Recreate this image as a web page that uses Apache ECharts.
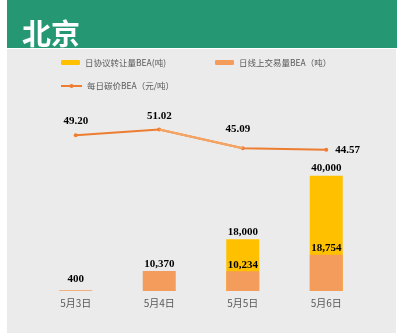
<!DOCTYPE html>
<html>
<head>
<meta charset="utf-8">
<script src="https://cdn.jsdelivr.net/npm/echarts@6/dist/echarts.min.js"></script>
<style>
html,body{margin:0;padding:0;background:#fff;}
#c{width:397px;height:336px;}
</style>
</head>
<body>
<div id="c"></div>
<script>
const categories = ['5月3日', '5月4日', '5月5日', '5月6日'];
const agreementVolume = [null, null, 18000, 40000];   // 日协议转让量BEA(吨)
const onlineVolume = [400, 10370, 10234, 18754];      // 日线上交易量BEA（吨）
const dailyPrice = [49.20, 51.02, 45.09, 44.57];      // 每日碳价BEA（元/吨）

const titleText = '北京';
const nameAgree = '日协议转让量BEA(吨)';
const nameOnline = '日线上交易量BEA（吨）';
const namePrice = '每日碳价BEA（元/吨）';

const serifLabel = {fontFamily: '"Liberation Serif", "DejaVu Serif", serif', fontWeight: 'bold', fontSize: 11, color: '#000'};
const thousands = p => p.value == null ? '' : Number(p.value).toLocaleString('en-US');

// per-point label placement for the price line
const priceLabelStyles = [
  {position: 'top', distance: 7},
  {position: 'top', distance: 6},
  {position: 'top', distance: 12, offset: [-5, 0]},
  {position: 'right', distance: 7}
];

const chart = echarts.init(document.getElementById('c'), null, {renderer: 'canvas'});
const legendText = {color: '#595959', fontSize: 8.5, fontFamily: '"Noto Sans CJK SC", sans-serif', lineHeight: 12};

chart.setOption({
  animation: false,
  backgroundColor: '#ffffff',
  graphic: [
    {type: 'rect', left: 7, top: 0, shape: {width: 390, height: 48}, style: {fill: '#259873'}, z: -10},
    {type: 'rect', left: 7, top: 49, shape: {width: 389, height: 284}, style: {fill: '#EBEBEB'}, z: -10}
  ],
  title: {
    text: titleText, left: 22, top: 19, padding: 0,
    textStyle: {color: '#fff', fontSize: 29, fontWeight: 'bold', fontFamily: '"Noto Sans CJK SC", sans-serif', lineHeight: 30}
  },
  legend: [
    {data: [nameAgree], left: 61, top: 56.5, padding: 0, itemWidth: 19, itemHeight: 5, textStyle: legendText},
    {data: [nameOnline], left: 215, top: 56.5, padding: 0, itemWidth: 19, itemHeight: 5, textStyle: legendText},
    {data: [namePrice], left: 60, top: 80, padding: 0, itemWidth: 21, itemHeight: 5, textStyle: legendText}
  ],
  grid: {left: 34, right: 29, top: 101, bottom: 45},
  xAxis: {
    type: 'category', data: categories,
    axisLine: {show: false}, axisTick: {show: false},
    axisLabel: {color: '#595959', fontSize: 10, margin: 7, fontFamily: '"Noto Sans CJK SC", sans-serif'}
  },
  yAxis: [
    {type: 'value', min: 0, max: 66000, show: false, splitLine: {show: false}},
    {type: 'value', min: 0, max: 98000, show: false, splitLine: {show: false}},
    {type: 'value', min: 0, max: 60, show: false, splitLine: {show: false}}
  ],
  series: [
    {
      name: nameAgree, type: 'bar', yAxisIndex: 0, data: agreementVolume,
      barWidth: 33, barGap: '-100%', itemStyle: {color: '#FFC000'},
      label: Object.assign({show: true, position: 'top', distance: 2, formatter: thousands}, serifLabel),
      z: 2
    },
    {
      name: nameOnline, type: 'bar', yAxisIndex: 1,
      data: onlineVolume.map((v, i) => i === 0 ? {value: v, label: {distance: 6}} : v),
      barWidth: 33, barGap: '-100%', itemStyle: {color: '#F49C5B'},
      label: Object.assign({show: true, position: 'top', distance: 1, formatter: thousands}, serifLabel),
      z: 3
    },
    {
      name: namePrice, type: 'line', yAxisIndex: 2,
      data: dailyPrice.map((v, i) => ({value: v, label: priceLabelStyles[i]})),
      symbol: 'circle', symbolSize: 4,
      lineStyle: {color: '#ED7D31', width: 2}, itemStyle: {color: '#ED7D31'},
      label: Object.assign({show: true, formatter: p => Number(p.value).toFixed(2)}, serifLabel),
      z: 5
    },
    {
      name: 'segment', type: 'line', yAxisIndex: 2,
      data: dailyPrice.map((v, i) => (i === 1 || i === 2) ? v : null),
      symbol: 'none', lineStyle: {color: '#F5A462', width: 2}, z: 6, silent: true
    }
  ]
});
</script>
</body>
</html>
